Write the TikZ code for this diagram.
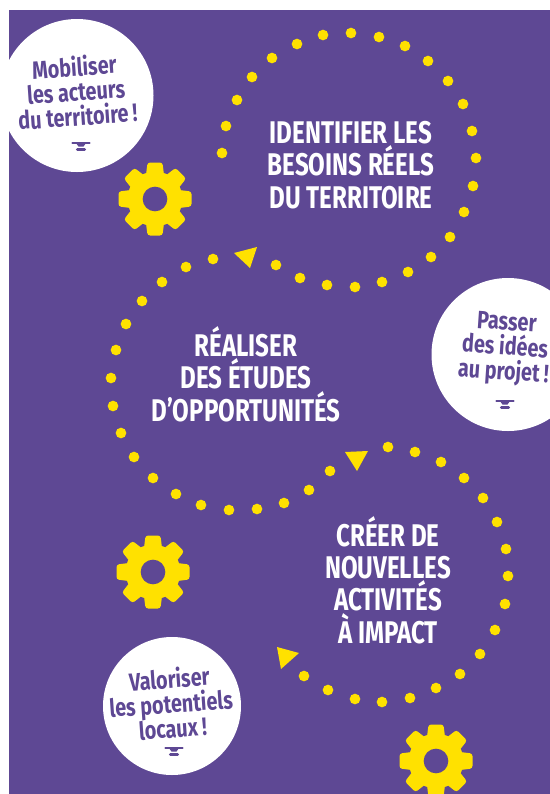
\documentclass[tikz,border=0pt]{standalone}
\usepackage{fontspec}
\newfontfamily\cond[FakeStretch=0.77]{Fira Sans}
\newfontfamily\condb[FakeStretch=0.79]{Fira Sans}
\definecolor{bgpurple}{HTML}{5E4894}
\definecolor{dotyellow}{HTML}{FFE100}
\tikzset{
  dotmark/.style={circle,fill=dotyellow,draw=none,minimum size=8pt,inner sep=0pt},
  headline/.style={text=white,align=center,font=\cond\fontsize{23.5}{24.3}\selectfont\bfseries},
  bubble/.style={fill=white,draw=none},
  bubbletext/.style={text=bgpurple,align=center,font=\condb\fontsize{18.8}{18.6}\selectfont\bfseries},
  tip/.style={fill=dotyellow,draw=none},
  iconbar/.style={draw=bgpurple,line cap=round}
}
\newcommand{\gearat}[3]{% name, x, y
  \begin{scope}[shift={(#2,#3)}]
    \foreach \a in {0,45,...,315}{
      \fill[dotyellow,rounded corners=2pt,rotate=\a] (-9.5,-20) -- (-7.5,-36.5) -- (7.5,-36.5) -- (9.5,-20) -- cycle;
    }
    \fill[dotyellow] (0,0) circle (27.5);
    \node[circle,fill=bgpurple,minimum size=18.5pt,inner sep=0pt] (#1) at (0,0) {};
  \end{scope}}
\newcommand{\lampat}[2]{% x, y
  \draw[iconbar,line width=1.6pt] (#1-8.5,#2) -- (#1+8.5,#2);
  \draw[iconbar,line width=2.4pt] (#1-3.5,#2+6.5) -- (#1+3.5,#2+6.5);
  \fill[bgpurple] (#1-5,#2) -- (#1+5,#2) -- (#1+2.5,#2+3.5) -- (#1-2.5,#2+3.5) -- cycle;}
\begin{document}
\begin{tikzpicture}[x=0.75pt,y=-0.75pt]
  \useasboundingbox (0,0) rectangle (550,794);
  \fill[white] (0,0) rectangle (550,794);
  \fill[bgpurple] (9,10) rectangle (550,794);
  % circles
  \begin{scope}
    \clip (0,0) rectangle (550,794);
    \node[bubble,circle,minimum size=114.75pt,inner sep=0pt] (c1) at (77,95.5) {};
    \node[bubble,circle,minimum size=114.75pt,inner sep=0pt] (c2) at (508,354.5) {};
    \node[bubble,circle,minimum size=103.5pt,inner sep=0pt] (c3) at (172,706) {};
  \end{scope}
  \node[bubbletext,rotate=4] (t1) at (76,91) {Mobiliser\\les acteurs\\du territoire\,!};
  \node[bubbletext,rotate=-4] (t2) at (505,349) {Passer\\des idées\\au projet\,!};
  \node[bubbletext,rotate=4] (t3) at (171,703) {Valoriser\\les potentiels\\locaux\,!};
  \lampat{81}{143}
  \lampat{505}{401}
  \lampat{174}{748}
  % headlines
  \node[headline] (h1) at (351,165) {IDENTIFIER LES\\BESOINS RÉELS\\DU TERRITOIRE};
  \node[headline] (h2) at (246,374) {RÉALISER\\DES ÉTUDES\\D’OPPORTUNITÉS};
  \node[headline] (h3) at (388,580) {CRÉER DE\\NOUVELLES\\ACTIVITÉS\\À IMPACT};
  % dotted paths
  \foreach \x/\y [count=\i] in {222/153,226/126,237/100,252/77,272/58,297/44,323/35,351/33,379/37,405/46,428/61,448/81,463/104,472/131,476/158,473/186,464/212,450/237,431/257,408/272,382/282,355/287,327/285,300/278,276/265,
    213/259,186/267,162/282,142/301,126/324,116/350,111/378,113/406,121/433,134/457,153/478,176/494,201/505,229/510,257/509,284/503,309/490,330/471,
    388/447,415/452,441/462,464/478,483/498,497/522,506/549,508/576,505/604,495/630,480/654,460/674,436/688,410/698,382/702,355/699,328/690,304/676}
    \node[dotmark] (d\i) at (\x,\y) {};
  % arrowheads
  \fill[tip] (234,253) -- (257,247) -- (250,268) -- cycle;
  \fill[tip] (345,452) -- (368,451) -- (357,471) -- cycle;
  \fill[tip] (277,647) -- (299,653) -- (281,669) -- cycle;
  % gears
  \gearat{g1}{155}{199}
  \gearat{g2}{153}{572}
  \gearat{g3}{436}{761}
\end{tikzpicture}
\end{document}
